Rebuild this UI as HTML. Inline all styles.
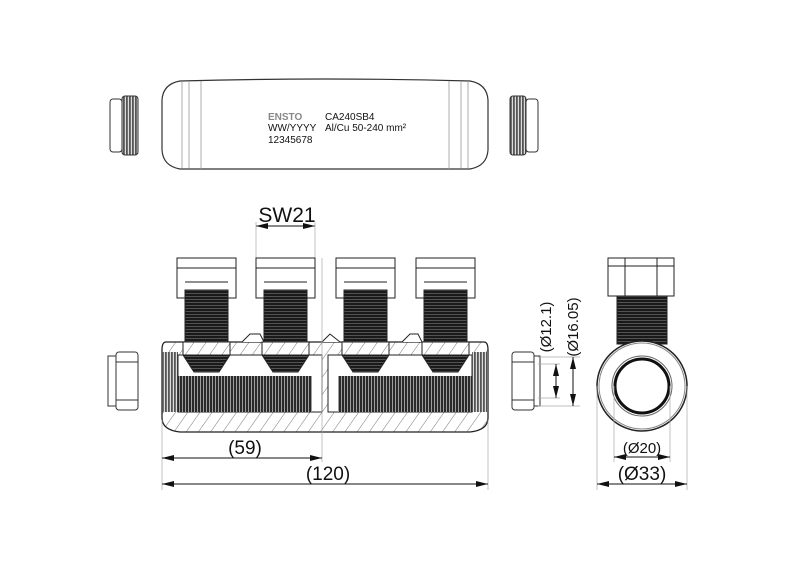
<!DOCTYPE html>
<html><head><meta charset="utf-8"><style>
html,body{margin:0;padding:0;background:#fff;width:800px;height:567px;overflow:hidden}
svg{display:block}
text{font-family:"Liberation Sans",sans-serif;fill:#111}
</style></head><body>
<svg width="800" height="567" viewBox="0 0 800 567" xmlns="http://www.w3.org/2000/svg">
<defs>
<pattern id="thr" width="4" height="3" patternUnits="userSpaceOnUse"><rect width="4" height="3" fill="#1a1a1a"/><rect y="2.2" width="4" height="0.6" fill="#777"/></pattern>
<pattern id="thv" width="3" height="4" patternUnits="userSpaceOnUse"><rect width="3" height="4" fill="#2a2a2a"/><rect x="2.1" width="0.8" height="4" fill="#bbb"/></pattern>
<pattern id="thv2" width="3" height="4" patternUnits="userSpaceOnUse"><rect width="3" height="4" fill="#555"/><rect x="1.8" width="1.2" height="4" fill="#ddd"/></pattern>
<pattern id="hat" width="10" height="10" patternUnits="userSpaceOnUse" patternTransform="rotate(35)"><rect width="10" height="10" fill="#fff"/><line x1="0" y1="0" x2="0" y2="10" stroke="#555" stroke-width="0.8"/></pattern>
<marker id="a" markerWidth="12" markerHeight="6" refX="12" refY="3" orient="auto-start-reverse" markerUnits="userSpaceOnUse"><path d="M0,0 L12,3 L0,6z" fill="#111"/></marker>
</defs>

<!-- top view -->
<path d="M180,81 Q163,84 162,100 L162,150 Q163,166 180,169 L470,169 Q487,166 488,150 L488,100 Q487,84 470,81 Q325,77 180,81 Z" fill="#fff" stroke="#333" stroke-width="1.2"/>
<g stroke="#999" stroke-width="0.8"><line x1="182" y1="82" x2="182" y2="168"/><line x1="189" y1="82" x2="189" y2="168"/><line x1="201" y1="81" x2="201" y2="169"/><line x1="449" y1="81" x2="449" y2="169"/><line x1="461" y1="82" x2="461" y2="168"/><line x1="468" y1="82" x2="468" y2="168"/></g>
<text x="268" y="120" font-size="10" font-weight="bold" style="fill:#888">ENSTO</text>
<text x="325" y="120" font-size="10">CA240SB4</text>
<text x="268" y="131" font-size="10">WW/YYYY</text>
<text x="325" y="131" font-size="10">Al/Cu 50-240 mm²</text>
<text x="268" y="143" font-size="10">12345678</text>
<g stroke="#333" stroke-width="1" fill="#fff">
<rect x="110" y="99" width="12" height="53" rx="3"/><rect x="122" y="96" width="16" height="59" rx="3" fill="url(#thv2)"/>
<rect x="510" y="96" width="16" height="59" rx="3" fill="url(#thv2)"/><rect x="526" y="99" width="12" height="53" rx="3"/>
</g>

<!-- SW21 -->
<text x="287" y="222" font-size="21" text-anchor="middle">SW21</text>
<line x1="256" y1="226" x2="315" y2="226" stroke="#111" stroke-width="1" marker-start="url(#a)" marker-end="url(#a)"/>
<g stroke="#aaa" stroke-width="0.7"><line x1="256" y1="222" x2="256" y2="258"/><line x1="315" y1="222" x2="315" y2="258"/></g>

<!-- main body -->
<path d="M166,342 L484,342 Q488,342 488,350 L488,418 Q488,430 470,432 L180,432 Q162,430 162,418 L162,350 Q162,342 166,342 Z" fill="url(#hat)" stroke="#222" stroke-width="1.3"/>
<rect x="162" y="352" width="16" height="60" fill="url(#thv2)"/>
<rect x="472" y="352" width="16" height="60" fill="url(#thv2)"/>
<rect x="178" y="355" width="144" height="57" fill="#fff" stroke="#222"/>
<rect x="328" y="355" width="144" height="57" fill="#fff" stroke="#222"/>
<rect x="178" y="376" width="134" height="36" fill="url(#thv)"/>
<rect x="338" y="376" width="134" height="36" fill="url(#thv)"/>
<path d="M242,342 L250,334 L260,334 L264,342 M322,342 L330,334 L340,342 M402,342 L410,334 L418,334 L422,342" fill="#fff" stroke="#222"/>
<!-- bolts -->
<g stroke="#222" stroke-width="1">
<g transform="translate(177,0)"><rect x="0" y="258" width="59" height="40" fill="#fff"/><line x1="0" y1="268" x2="59" y2="268"/><line x1="8" y1="282" x2="51" y2="282"/><rect x="8" y="290" width="43" height="52" fill="url(#thr)"/><rect x="6" y="342" width="47" height="13" fill="url(#hat)"/><path d="M6,355 L53,355 L42,372 L17,372Z" fill="url(#thr)"/></g>
<g transform="translate(256,0)"><rect x="0" y="258" width="59" height="40" fill="#fff"/><line x1="0" y1="268" x2="59" y2="268"/><line x1="8" y1="282" x2="51" y2="282"/><rect x="8" y="290" width="43" height="52" fill="url(#thr)"/><rect x="6" y="342" width="47" height="13" fill="url(#hat)"/><path d="M6,355 L53,355 L42,372 L17,372Z" fill="url(#thr)"/></g>
<g transform="translate(336,0)"><rect x="0" y="258" width="59" height="40" fill="#fff"/><line x1="0" y1="268" x2="59" y2="268"/><line x1="8" y1="282" x2="51" y2="282"/><rect x="8" y="290" width="43" height="52" fill="url(#thr)"/><rect x="6" y="342" width="47" height="13" fill="url(#hat)"/><path d="M6,355 L53,355 L42,372 L17,372Z" fill="url(#thr)"/></g>
<g transform="translate(416,0)"><rect x="0" y="258" width="59" height="40" fill="#fff"/><line x1="0" y1="268" x2="59" y2="268"/><line x1="8" y1="282" x2="51" y2="282"/><rect x="8" y="290" width="43" height="52" fill="url(#thr)"/><rect x="6" y="342" width="47" height="13" fill="url(#hat)"/><path d="M6,355 L53,355 L42,372 L17,372Z" fill="url(#thr)"/></g>
</g>
<!-- side caps -->
<g stroke="#333" stroke-width="1" fill="#fff">
<rect x="108" y="356" width="8" height="50"/><rect x="116" y="352" width="22" height="58" rx="3"/><line x1="116" y1="362" x2="138" y2="362"/><line x1="116" y1="400" x2="138" y2="400"/>
<rect x="512" y="352" width="22" height="58" rx="3"/><rect x="534" y="356" width="6" height="50"/><line x1="512" y1="362" x2="534" y2="362"/><line x1="512" y1="400" x2="534" y2="400"/>
</g>
<!-- dims right of cap -->
<g stroke="#aaa" stroke-width="0.7"><line x1="538" y1="364" x2="560" y2="364"/><line x1="538" y1="398" x2="560" y2="398"/><line x1="538" y1="357" x2="580" y2="357"/><line x1="538" y1="406" x2="580" y2="406"/></g>
<line x1="556" y1="364" x2="556" y2="398" stroke="#111" marker-start="url(#a)" marker-end="url(#a)"/>
<line x1="573" y1="357" x2="573" y2="406" stroke="#111" marker-start="url(#a)" marker-end="url(#a)"/>
<text transform="translate(551,327) rotate(-90)" font-size="15" text-anchor="middle">(Ø12.1)</text>
<text transform="translate(578,327) rotate(-90)" font-size="15" text-anchor="middle">(Ø16.05)</text>

<!-- bottom dims -->
<g stroke="#aaa" stroke-width="0.7"><line x1="162" y1="420" x2="162" y2="490"/><line x1="322" y1="258" x2="322" y2="462"/><line x1="488" y1="420" x2="488" y2="490"/></g>
<line x1="162" y1="458" x2="322" y2="458" stroke="#111" marker-start="url(#a)" marker-end="url(#a)"/>
<line x1="162" y1="484" x2="488" y2="484" stroke="#111" marker-start="url(#a)" marker-end="url(#a)"/>
<text x="245" y="454" font-size="19" text-anchor="middle">(59)</text>
<text x="328" y="480" font-size="19" text-anchor="middle">(120)</text>

<!-- right view -->
<g stroke="#222" stroke-width="1">
<rect x="608" y="258" width="66" height="38" fill="#fff"/><line x1="608" y1="266" x2="674" y2="266"/><line x1="625" y1="258" x2="625" y2="296"/><line x1="657" y1="258" x2="657" y2="296"/>
<rect x="617" y="296" width="50" height="48" fill="url(#thr)"/>
<circle cx="642" cy="386" r="45" fill="#fff" stroke-width="1.5"/>
<circle cx="642" cy="386" r="43" fill="none" stroke="#888"/>
<circle cx="642" cy="386" r="30" fill="#fff" stroke="#666"/>
<circle cx="642" cy="386" r="27" fill="#fff" stroke="#111" stroke-width="3"/>
</g>
<g stroke="#aaa" stroke-width="0.7"><line x1="597" y1="386" x2="597" y2="490"/><line x1="687" y1="386" x2="687" y2="490"/><line x1="614" y1="386" x2="614" y2="462"/><line x1="670" y1="386" x2="670" y2="462"/></g>
<line x1="614" y1="457" x2="670" y2="457" stroke="#111" marker-start="url(#a)" marker-end="url(#a)"/>
<line x1="597" y1="484" x2="687" y2="484" stroke="#111" marker-start="url(#a)" marker-end="url(#a)"/>
<text x="642" y="453" font-size="15" text-anchor="middle">(Ø20)</text>
<text x="642" y="480" font-size="19" text-anchor="middle">(Ø33)</text>
</svg>
</body></html>
